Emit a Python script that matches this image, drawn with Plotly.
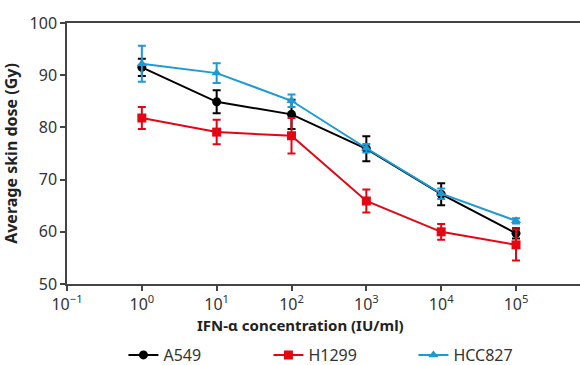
import plotly.graph_objects as go

conc = [1, 10, 100, 1000, 10000, 100000]
a549 = [91.5, 84.9, 82.5, 75.9, 67.2, 59.7]
a549_err = [1.65, 2.2, 2.8, 2.4, 2.1, 1.0]
h1299 = [81.8, 79.1, 78.4, 65.9, 60.0, 57.5]
h1299_err = [2.1, 2.35, 3.4, 2.2, 1.5, 3.0]
hcc827 = [92.2, 90.4, 85.1, 76.0, 67.3, 62.1]
hcc827_err = [3.45, 1.9, 1.2, 0.8, 1.0, 0.5]

tick_vals = [0.1, 1, 10, 100, 1000, 10000, 100000]
tick_text = ["10<sup>\u22121</sup>", "10<sup>0</sup>", "10<sup>1</sup>", "10<sup>2</sup>",
             "10<sup>3</sup>", "10<sup>4</sup>", "10<sup>5</sup>"]

FONT = "Noto Sans"
series = [
    ("A549", a549, a549_err, "#000000", "circle"),
    ("H1299", h1299, h1299_err, "#e30613", "square"),
    ("HCC827", hcc827, hcc827_err, "#1b9ad6", "triangle-up"),
]

fig = go.Figure()
for name, vals, errs, col, sym in series:
    fig.add_trace(go.Scatter(
        x=conc, y=vals, name=name, mode="lines+markers",
        line=dict(color=col, width=2),
        marker=dict(color=col, symbol=sym, size=9),
        error_y=dict(type="data", array=errs, visible=True, color=col, thickness=2, width=4),
    ))

fig.update_layout(
    width=580, height=365,
    margin=dict(l=67, r=0, t=23, b=81, autoexpand=False),
    paper_bgcolor="white", plot_bgcolor="white",
    font=dict(family=FONT, color="#333333", size=15),
    showlegend=True,
    legend=dict(orientation="h", x=0.11, xanchor="left", xref="paper",
                y=-0.272, yanchor="middle", yref="paper",
                font=dict(size=16, color="#333333"), entrywidth=100),
    annotations=[dict(text="<b>IFN-\u03b1 concentration (IU/ml)</b>", xref="paper", yref="paper",
                      x=0.456, y=-0.157, xanchor="center", yanchor="middle", showarrow=False,
                      font=dict(size=15, color="#222222"))],
)
fig.update_xaxes(
    type="log", range=[-1, 5.855], automargin=False,
    tickvals=tick_vals, ticktext=tick_text,
    showgrid=False, zeroline=False,
    showline=True, linecolor="#444444", linewidth=1.5, mirror=True,
    ticks="outside", ticklen=5, tickcolor="#444444", tickwidth=1.5,
    tickfont=dict(size=16, color="#333333"),
)
fig.update_yaxes(
    range=[50, 100], tickvals=[50, 60, 70, 80, 90, 100], automargin=False,
    showgrid=False, zeroline=False,
    showline=True, linecolor="#444444", linewidth=1.5,
    ticks="outside", ticklen=5, tickcolor="#444444", tickwidth=1.5,
    tickfont=dict(size=16, color="#333333"),
    title=dict(text="<b>Average skin dose (Gy)</b>", font=dict(size=16, color="#222222"), standoff=8),
)

fig.write_html("out.html", config={"displayModeBar": False},
               post_script="document.body.style.margin='0';")
